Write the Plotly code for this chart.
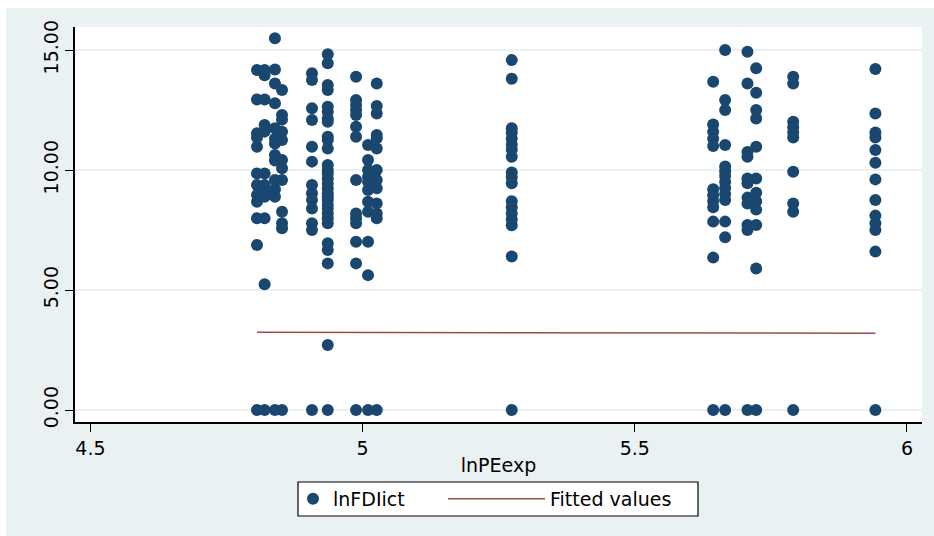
import plotly.graph_objects as go

# lnPEexp levels (x) and the lnFDIict observations recorded at each level
pe_levels = [4.806, 4.820, 4.839, 4.852, 4.907, 4.936, 4.988, 5.010, 5.026,
             5.274, 5.644, 5.666, 5.707, 5.723, 5.791, 5.942]

fd_4806 = [14.17, 12.94, 11.53, 11.35, 10.97, 9.86, 9.38, 8.96, 8.68, 7.99, 6.88, 0]
fd_4820 = [14.17, 13.95, 12.94, 11.88, 11.60, 9.86, 9.38, 9.10, 8.89, 7.99, 5.24, 0]
fd_4839 = [15.49, 14.19, 13.61, 12.78, 11.74, 11.30, 11.10, 10.63, 10.40, 9.58, 9.20, 8.89, 0]
fd_4852 = [13.33, 12.29, 12.10, 11.60, 11.25, 10.42, 10.07, 9.58, 8.26, 7.78, 7.57, 0]
fd_4907 = [14.03, 13.75, 12.57, 12.08, 10.97, 10.35, 9.38, 9.03, 8.75, 8.40, 7.78, 7.50, 0]
fd_4936 = [14.82, 14.45, 13.54, 13.33, 12.64, 12.43, 12.15, 12.01, 11.39, 11.25, 10.90,
           10.21, 10.00, 9.86, 9.65, 9.44, 9.24, 9.03, 8.89, 8.75, 8.54, 8.40, 8.19,
           7.99, 7.78, 6.95, 6.67, 6.11, 2.71, 0]
fd_4988 = [13.89, 12.92, 12.71, 12.50, 12.29, 11.80, 11.39, 9.58, 8.19, 7.99, 7.78, 7.01, 6.11, 0]
fd_5010 = [11.04, 10.42, 10.00, 9.72, 9.51, 9.17, 8.68, 8.26, 7.01, 5.62, 0]
fd_5026 = [13.61, 12.67, 12.36, 11.46, 11.32, 10.90, 10.00, 9.58, 9.24, 8.61, 8.19, 7.99, 0]
fd_5274 = [14.58, 13.80, 11.74, 11.55, 11.30, 11.05, 10.85, 10.55, 9.90, 9.70, 9.45,
           8.70, 8.45, 8.20, 7.95, 7.70, 6.40, 0]
fd_5644 = [13.68, 11.90, 11.60, 11.30, 11.00, 9.20, 8.95, 8.70, 8.45, 7.85, 6.35, 0]
fd_5666 = [15.00, 12.92, 12.50, 11.04, 10.15, 9.95, 9.75, 9.50, 9.25, 9.00, 8.75, 7.85, 7.20, 0]
fd_5707 = [14.93, 13.61, 10.75, 10.55, 9.65, 9.45, 8.85, 8.60, 7.71, 7.50, 0]
fd_5723 = [14.24, 13.22, 12.50, 12.15, 10.97, 9.65, 9.05, 8.70, 8.35, 7.71, 5.90, 0]
fd_5791 = [13.89, 13.61, 12.01, 11.78, 11.56, 11.36, 9.93, 8.61, 8.26, 0]
fd_5942 = [14.21, 12.36, 11.56, 11.36, 10.83, 10.30, 9.61, 8.75, 8.10, 7.78, 7.50, 6.60, 0]

fd_groups = [fd_4806, fd_4820, fd_4839, fd_4852, fd_4907, fd_4936, fd_4988, fd_5010,
             fd_5026, fd_5274, fd_5644, fd_5666, fd_5707, fd_5723, fd_5791, fd_5942]

# fitted values at the two ends of the observed lnPEexp range
fitted_ends = [3.24, 3.20]

x_ticks = [4.5, 5, 5.5, 6]
x_tick_text = ["4.5", "5", "5.5", "6"]
y_ticks = [0, 5, 10, 15]
y_tick_text = ["0.00", "5.00", "10.00", "15.00"]

NAVY = "#1A476F"
MAROON = "#A3474E"
PANEL = "#EAF1F3"
FONT = "DejaVu Sans"
FS = 19

xs, ys = [], []
for lvl, grp in zip(pe_levels, fd_groups):
    xs.extend([lvl] * len(grp))
    ys.extend(grp)

fig = go.Figure()
fig.add_trace(go.Scatter(
    x=xs, y=ys, mode="markers", name="lnFDIict", showlegend=True,
    marker=dict(color=NAVY, size=12, line=dict(width=0)),
    legend="legend",
))
fig.add_trace(go.Scatter(
    x=[min(pe_levels), max(pe_levels)], y=fitted_ends, mode="lines",
    name="Fitted values", showlegend=True, line=dict(color=MAROON, width=1.5),
    legend="legend2",
))

# plot area spans pixels x 75..922, y 27..422
L, R, T, B = 75, 922, 27, 422
W, H = 934, 536
def px(p):
    return (p - L) / (R - L)
def py(p):
    return (B - p) / (B - T)

shapes = [
    # legend frame
    dict(type="rect", xref="paper", yref="paper",
         x0=px(298), x1=px(698), y0=py(516), y1=py(482),
         line=dict(color="black", width=1.2), fillcolor="white", layer="below"),
    # white page edge around the grey panel
    dict(type="rect", xref="paper", yref="paper",
         x0=px(-2), x1=px(6), y0=py(540), y1=py(-2),
         line=dict(width=0), fillcolor="white", layer="above"),
    dict(type="rect", xref="paper", yref="paper",
         x0=px(-2), x1=px(940), y0=py(8), y1=py(-2),
         line=dict(width=0), fillcolor="white", layer="above"),
]

text_font = dict(family=FONT, size=FS, color="black")

fig.update_layout(
    width=W, height=H, autosize=False, showlegend=True,
    margin=dict(l=L, r=W - R, t=T, b=H - B, pad=0),
    paper_bgcolor=PANEL, plot_bgcolor="white",
    font=text_font,
    shapes=shapes,
    legend=dict(orientation="h", x=px(293), xanchor="left", y=py(499), yanchor="middle",
                bgcolor="rgba(0,0,0,0)", borderwidth=0, itemwidth=30,
                font=text_font, visible=True),
    legend2=dict(orientation="h", x=px(443), xanchor="left", y=py(499), yanchor="middle",
                 bgcolor="rgba(0,0,0,0)", borderwidth=0, itemwidth=97,
                 font=text_font, visible=True),
    xaxis=dict(range=[4.4717, 6.0276], tickvals=x_ticks, ticktext=x_tick_text,
               ticks="outside", ticklen=8, tickcolor="black", tickwidth=1.2,
               showline=True, linecolor="black", linewidth=1.5,
               showgrid=False, zeroline=False, tickfont=text_font,
               title=dict(text="lnPEexp", font=text_font, standoff=1)),
    yaxis=dict(range=[-0.5, 15.96], tickvals=y_ticks, ticktext=y_tick_text,
               tickangle=-90, ticks="outside", ticklen=8, tickcolor="black", tickwidth=1.2,
               showline=True, linecolor="black", linewidth=1.5,
               showgrid=True, gridcolor=PANEL, gridwidth=1.5, zeroline=False,
               tickfont=text_font),
)

fig.write_html("out.html")
